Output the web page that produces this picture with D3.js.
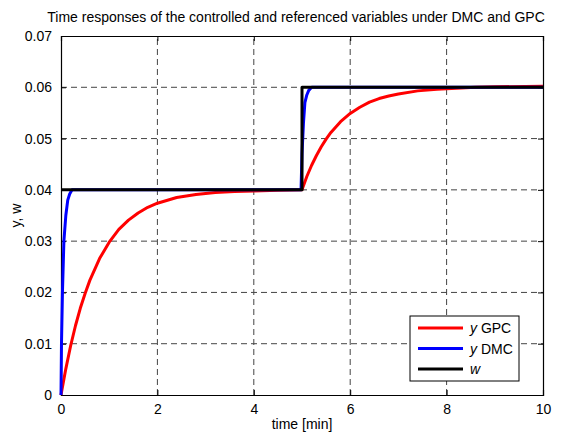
<!DOCTYPE html>
<html>
<head>
<meta charset="utf-8">
<script src="https://cdn.jsdelivr.net/npm/d3@7"></script>
<style>
  body { margin: 0; background: #fff; }
  text { font-family: "Liberation Sans", Arial, sans-serif; fill: #000; }
</style>
</head>
<body>
<div id="chart"></div>
<script>
/* DATA */
const titleText = "Time responses of the controlled and referenced variables under DMC and GPC";
const xTicks = [0, 2, 4, 6, 8, 10];
const yTicks = [0, 0.01, 0.02, 0.03, 0.04, 0.05, 0.06, 0.07];

// y GPC
const gpcTime = [0, 0.1, 0.2, 0.3, 0.4, 0.5, 0.6, 0.8, 1.0, 1.2, 1.4, 1.6, 1.8, 2.0, 2.4, 2.8, 3.2, 3.6, 4.0, 4.5, 5.0,
  5.1, 5.2, 5.3, 5.4, 5.5, 5.6, 5.8, 6.0, 6.2, 6.4, 6.6, 6.8, 7.0, 7.4, 7.8, 8.2, 8.6, 9.0, 10];
const gpcValue = [0, 0.0051, 0.0096, 0.0135, 0.0169, 0.0198, 0.0224, 0.0266, 0.0298, 0.0323, 0.0341, 0.0355, 0.0366, 0.0374, 0.0385, 0.0391, 0.0395, 0.0397, 0.0398, 0.0399, 0.0400,
  0.0426, 0.0448, 0.0467, 0.0484, 0.0499, 0.0512, 0.0533, 0.0549, 0.0561, 0.0571, 0.0578, 0.0583, 0.0587, 0.0593, 0.0596, 0.0598, 0.0600, 0.0601, 0.0602];

// y DMC
const dmcTime = [0, 0.01, 0.03, 0.06, 0.1, 0.14, 0.18, 0.23, 1, 4.98, 5.0, 5.03, 5.06, 5.1, 5.14, 5.2, 6, 10];
const dmcValue = [0, 0.010, 0.020, 0.030, 0.035, 0.038, 0.0392, 0.040, 0.040, 0.040, 0.047, 0.053, 0.057, 0.0585, 0.0594, 0.060, 0.060, 0.060];

// w (reference)
const wTime = [0, 5, 5, 10];
const wValue = [0.04, 0.04, 0.06, 0.06];

const series = [
  { name: "GPC", color: "#ff0000", t: gpcTime, v: gpcValue },
  { name: "DMC", color: "#0000ff", t: dmcTime, v: dmcValue },
  { name: "w", color: "#000000", t: wTime, v: wValue }
];

/* LAYOUT */
const width = 566, height = 432;
const margin = { top: 36, right: 23, bottom: 37, left: 61 };

const svg = d3.select("#chart").append("svg")
  .attr("width", width)
  .attr("height", height);

const xScale = d3.scaleLinear().domain([0, 10]).range([margin.left, width - margin.right]);
const yScale = d3.scaleLinear().domain([0, 0.07]).range([height - margin.bottom, margin.top]);

const x0 = xScale.range()[0], x1 = xScale.range()[1];
const y0 = yScale.range()[0], y1 = yScale.range()[1];

// grid
svg.append("g").selectAll("line.gx")
  .data(xTicks.slice(1, -1))
  .join("line")
  .attr("x1", d => xScale(d)).attr("x2", d => xScale(d))
  .attr("y1", y0).attr("y2", y1)
  .attr("stroke", "#444").attr("stroke-width", 1).attr("stroke-dasharray", "6,4");

svg.append("g").selectAll("line.gy")
  .data(yTicks.slice(1, -1))
  .join("line")
  .attr("x1", x0).attr("x2", x1)
  .attr("y1", d => yScale(d)).attr("y2", d => yScale(d))
  .attr("stroke", "#444").attr("stroke-width", 1).attr("stroke-dasharray", "6,4");

// axes with inner ticks on all four sides
const fmtY = d => d === 0 ? "0" : d3.format(".2f")(d);
svg.append("g").attr("class", "x-axis")
  .attr("transform", `translate(0,${y0})`)
  .call(d3.axisBottom(xScale).tickValues(xTicks).tickSize(-5).tickPadding(9).tickFormat(d3.format("d")));
svg.append("g")
  .attr("transform", `translate(0,${y1})`)
  .call(d3.axisTop(xScale).tickValues(xTicks).tickSize(-5).tickFormat(""));
svg.append("g").attr("class", "y-axis")
  .attr("transform", `translate(${x0},0)`)
  .call(d3.axisLeft(yScale).tickValues(yTicks).tickSize(-5).tickPadding(9).tickFormat(fmtY));
svg.append("g")
  .attr("transform", `translate(${x1},0)`)
  .call(d3.axisRight(yScale).tickValues(yTicks).tickSize(-5).tickFormat(""));

svg.selectAll(".domain").attr("stroke", "#000").attr("stroke-width", 1.2);
svg.selectAll(".tick line").attr("stroke", "#000");
svg.selectAll(".tick text").style("font-size", "14px").attr("fill", "#000");

// lines
const line = d3.line()
  .x(d => xScale(d[0]))
  .y(d => yScale(d[1]));

svg.append("g").selectAll("path.series")
  .data(series)
  .join("path")
  .attr("class", "series")
  .attr("fill", "none")
  .attr("stroke", d => d.color)
  .attr("stroke-width", 3)
  .attr("stroke-linejoin", "round")
  .attr("d", d => line(d.t.map((t, i) => [t, d.v[i]])));

// title and labels
svg.append("text")
  .attr("x", (x0 + x1) / 2 - 6).attr("y", 22)
  .attr("text-anchor", "middle")
  .style("font-size", "14px")
  .text(titleText);

svg.append("text")
  .attr("x", (x0 + x1) / 2).attr("y", 429)
  .attr("text-anchor", "middle")
  .style("font-size", "14px")
  .text("time [min]");

svg.append("text")
  .attr("transform", `translate(21,${(y0 + y1) / 2}) rotate(-90)`)
  .attr("text-anchor", "middle")
  .style("font-size", "14px")
  .text("y, w");

// legend
const legend = svg.append("g").attr("transform", "translate(410,316)");
legend.append("rect")
  .attr("width", 109).attr("height", 65)
  .attr("fill", "#fff").attr("stroke", "#000").attr("stroke-width", 1);

const item = legend.selectAll("g.item")
  .data(series)
  .join("g")
  .attr("class", "item")
  .attr("transform", (d, i) => `translate(0,${12 + i * 20.5})`);

item.append("line")
  .attr("x1", 8).attr("x2", 53)
  .attr("stroke", d => d.color).attr("stroke-width", 3);

const lt = item.append("text")
  .attr("x", 60).attr("y", 5)
  .style("font-size", "14px");
lt.append("tspan").style("font-style", "italic").text(d => d.name === "w" ? "w" : "y");
lt.append("tspan").text(d => d.name === "w" ? "" : " " + d.name);
</script>
</body>
</html>
